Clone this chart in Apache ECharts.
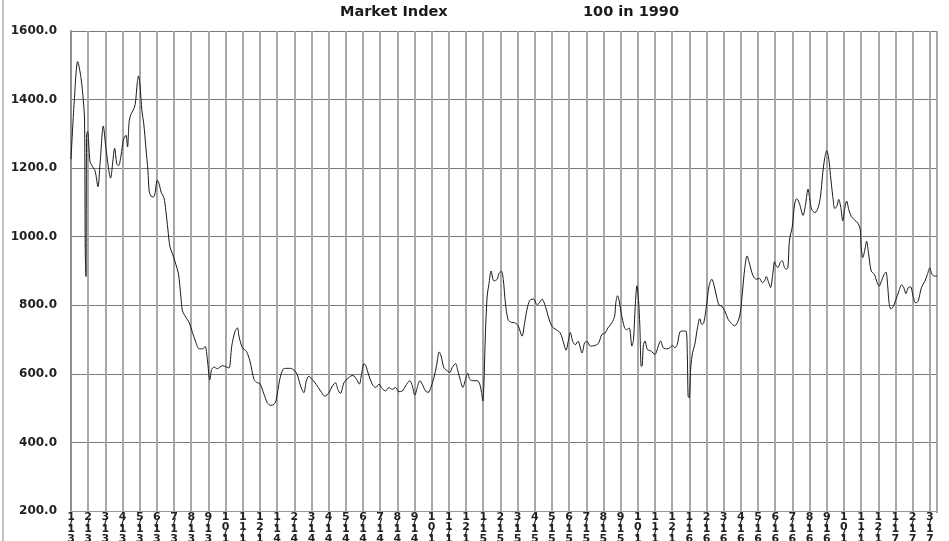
<!DOCTYPE html>
<html>
<head>
<meta charset="utf-8">
<script src="https://cdn.jsdelivr.net/npm/echarts@6/dist/echarts.min.js"></script>
<style>
  html, body { margin: 0; padding: 0; background: #fff; }
  #chart { width: 949px; height: 541px; }
</style>
</head>
<body>
<div id="chart"></div>
<script>
// month tick labels, one per month from Jan 2013
var monthLabels = [
  '1/13','2/13','3/13','4/13','5/13','6/13','7/13','8/13','9/13','10/13','11/13','12/13',
  '1/14','2/14','3/14','4/14','5/14','6/14','7/14','8/14','9/14','10/14','11/14','12/14',
  '1/15','2/15','3/15','4/15','5/15','6/15','7/15','8/15','9/15','10/15','11/15','12/15',
  '1/16','2/16','3/16','4/16','5/16','6/16','7/16','8/16','9/16','10/16','11/16','12/16',
  '1/17','2/17','3/17'
];

// time of each reading, in months since 1/13
var monthPos = [
  0.00,0.19,0.39,0.58,0.72,0.79,0.83,0.87,0.91,0.97,1.10,1.22,1.40,1.57,1.69,1.88,2.03,2.31,2.42,2.54,
  2.67,2.77,2.91,3.06,3.20,3.29,3.39,3.49,3.62,3.74,3.86,3.93,4.01,4.13,4.24,4.36,4.48,4.55,4.65,4.81,
  4.90,5.02,5.14,5.25,5.41,5.52,5.64,5.76,5.91,6.10,6.26,6.40,6.49,6.69,6.88,7.07,7.27,7.46,7.66,7.81,
  7.94,8.08,8.19,8.33,8.52,8.81,9.05,9.20,9.36,9.55,9.69,9.78,9.98,10.21,10.42,10.66,10.85,11.00,11.24,11.43,
  11.62,11.82,11.95,12.15,12.34,12.53,12.79,12.98,13.17,13.37,13.56,13.70,13.85,14.05,14.28,14.53,14.78,15.02,15.21,15.40,
  15.54,15.69,15.89,16.08,16.37,16.48,16.63,16.79,16.90,17.06,17.17,17.35,17.54,17.74,17.93,18.12,18.32,18.51,18.71,18.90,
  19.09,19.29,19.48,19.73,19.87,20.02,20.16,20.31,20.45,20.64,20.80,20.93,21.13,21.28,21.44,21.55,21.71,21.90,22.06,22.19,
  22.39,22.52,22.68,22.81,22.97,23.10,23.22,23.41,23.65,23.80,23.90,23.98,24.03,24.13,24.23,24.33,24.46,24.62,24.81,24.92,
  25.06,25.17,25.29,25.45,25.64,25.83,26.03,26.26,26.41,26.59,26.76,26.94,27.13,27.27,27.42,27.62,27.81,28.00,28.24,28.49,
  28.68,28.82,28.97,29.07,29.21,29.36,29.52,29.75,29.90,30.04,30.23,30.52,30.72,30.91,31.10,31.26,31.49,31.65,31.72,31.82,
  31.92,32.03,32.23,32.36,32.50,32.66,32.75,32.85,32.95,33.04,33.12,33.20,33.26,33.32,33.42,33.56,33.75,34.00,34.19,34.33,
  34.48,34.68,34.87,35.01,35.16,35.30,35.45,35.61,35.80,35.88,35.93,35.99,36.09,36.19,36.32,36.46,36.61,36.73,36.84,37.00,
  37.15,37.31,37.42,37.58,37.73,37.87,38.06,38.26,38.45,38.64,38.84,38.97,39.09,39.22,39.36,39.51,39.71,39.90,40.09,40.25,
  40.38,40.48,40.62,40.73,40.87,40.96,41.06,41.16,41.29,41.41,41.54,41.64,41.74,41.83,42.00,42.13,42.25,42.42,42.62,42.77,
  42.91,43.00,43.12,43.31,43.50,43.64,43.77,43.89,44.00,44.12,44.22,44.35,44.47,44.60,44.70,44.83,44.93,45.04,45.16,45.28,
  45.43,45.62,45.82,45.95,46.01,46.10,46.24,46.32,46.43,46.59,46.78,46.91,47.05,47.20,47.34,47.45,47.55,47.63,47.74,47.88,
  48.03,48.20,48.36,48.49,48.61,48.74,48.88,49.03,49.17,49.32,49.51,49.71,49.86,50.00,50.13,50.29,50.42
];

// index value (100 in 1990)
var indexValue = [
  1226,1396,1511,1464,1396,1338,959,884,1299,1307,1221,1207,1192,1146,1212,1323,1260,1171,1212,1258,
  1212,1207,1236,1284,1296,1262,1338,1357,1369,1386,1450,1469,1445,1367,1328,1260,1192,1134,1119,1116,
  1129,1165,1153,1129,1114,1076,1022,971,950,920,891,823,784,765,750,721,692,673,673,680,
  642,583,613,620,615,624,620,617,681,724,734,710,676,666,637,583,574,572,540,516,
  508,511,525,583,613,616,616,611,598,564,545,579,593,583,569,550,535,545,564,574,
  554,543,574,585,595,594,584,570,594,630,623,594,570,560,570,557,550,560,555,560,
  548,550,565,580,565,538,560,580,570,550,546,557,589,623,664,652,618,609,604,618,
  630,609,580,560,584,602,584,580,580,570,546,521,555,720,827,861,900,871,876,893,
  899,875,807,758,750,749,741,710,749,797,817,818,802,807,818,797,763,739,729,719,
  690,669,700,721,695,685,695,661,690,695,681,683,690,715,719,734,749,768,807,828,
  812,778,734,729,734,681,700,797,857,817,739,622,625,681,696,671,667,657,681,696,
  676,673,676,683,676,686,722,725,725,662,535,530,623,662,686,730,761,744,749,798,
  857,876,862,827,800,798,784,759,747,740,754,779,837,905,944,920,886,876,878,866,
  871,884,866,852,896,927,915,910,925,930,910,905,910,990,1031,1095,1111,1095,1062,1095,
  1139,1114,1080,1070,1085,1119,1187,1231,1251,1226,1178,1119,1082,1090,1109,1082,1046,1080,1104,1080,
  1059,1049,1039,1021,968,939,968,987,953,900,890,870,856,873,890,897,856,807,789,797,
  817,841,860,851,834,851,854,826,807,812,851,870,890,909,890,885,885
];

var yTicks = { min: 200, max: 1600, step: 200 };
var titleText = 'Market Index';
var baseText = '100 in 1990';

var FONT = 'DejaVu Sans';

// stack the label characters vertically, slash squeezed in
function stackLabel(txt) {
  return txt.split('').map(function (c) {
    return c === '/' ? '{s|/}' : '{d|' + c + '}';
  }).join('\n');
}

var chart = echarts.init(document.getElementById('chart'));
chart.setOption({
  animation: false,
  backgroundColor: '#fff',
  title: [
    { text: titleText, left: 340, top: 5, padding: 0,
      textStyle: { fontFamily: FONT, fontSize: 14.5, fontWeight: 'bold', color: '#1a1a1a' } },
    { text: baseText, left: 583, top: 5, padding: 0,
      textStyle: { fontFamily: FONT, fontSize: 14.5, fontWeight: 'bold', color: '#1a1a1a' } }
  ],
  graphic: [{
    type: 'line', shape: { x1: 3, y1: 0, x2: 3, y2: 541 },
    style: { stroke: '#c4c4c4', lineWidth: 2 }, silent: true
  }],
  grid: { left: 71, right: 12, top: 31, bottom: 30, outerBoundsMode: 'none' },
  xAxis: {
    type: 'value',
    min: 0,
    max: monthPos[monthPos.length - 1],
    interval: 1,
    axisLine: { show: true, lineStyle: { color: '#999', width: 1 } },
    axisTick: { show: true, length: 2, lineStyle: { color: '#a8a8a8', width: 2 } },
    splitLine: { show: true, lineStyle: { color: '#a8a8a8', width: 2 } },
    axisLabel: {
      margin: 1.5,
      formatter: function (v) {
        var i = Math.round(v);
        if (Math.abs(v - i) > 1e-6 || i >= monthLabels.length) return '';
        return stackLabel(monthLabels[i]);
      },
      rich: {
        d: { fontFamily: FONT, fontWeight: 'bold', fontSize: 11, lineHeight: 10, color: '#222' },
        s: { fontFamily: FONT, fontWeight: 'bold', fontSize: 11, lineHeight: 2, color: '#222' }
      }
    }
  },
  yAxis: {
    type: 'value',
    min: yTicks.min,
    max: yTicks.max,
    interval: yTicks.step,
    axisLine: { show: true, lineStyle: { color: '#909090', width: 2 } },
    axisTick: { show: false },
    splitLine: { show: true, lineStyle: { color: '#7a7a7a', width: 1 } },
    axisLabel: {
      margin: 14,
      fontFamily: FONT,
      fontWeight: 'bold',
      fontSize: 12,
      color: '#222',
      formatter: function (v) { return Number(v).toFixed(1); }
    }
  },
  series: [{
    name: titleText,
    type: 'line',
    z: 3,
    data: monthPos.map(function (m, i) { return [m, indexValue[i]]; }),
    showSymbol: false,
    smooth: 0.3,
    lineStyle: { color: '#1a1a1a', width: 1 }
  }]
});
</script>
</body>
</html>
